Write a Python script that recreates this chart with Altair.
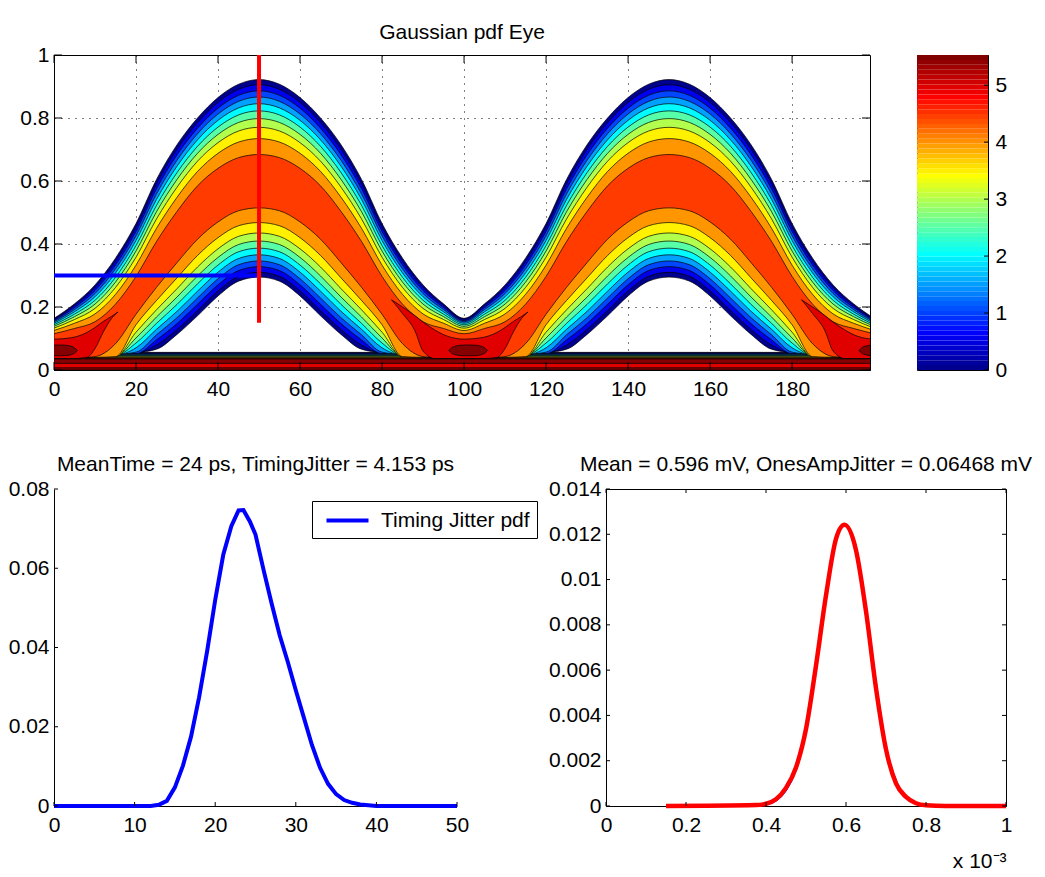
import pandas as pd
import altair as alt

FONT = "Liberation Sans"
FS = 21

# ------------------------------------------------------------------ eye contour (top)
EYE_TITLE = "Gaussian pdf Eye"
EYE_X_MAX = 199
EYE_XTICKS = [0, 20, 40, 60, 80, 100, 120, 140, 160, 180]
EYE_YTICKS = [0, 0.2, 0.4, 0.6, 0.8, 1]
# half bit period (outer upper edge, core centre, outer lower edge)
HALF_X = [0, 5, 10, 15, 20, 25, 30, 35, 40, 45, 50]
UPPER_EDGE = [0.164, 0.21, 0.27, 0.355, 0.465, 0.605, 0.715, 0.80, 0.865, 0.907, 0.922]
CENTRE = [0.097, 0.103, 0.11, 0.155, 0.235, 0.335, 0.425, 0.505, 0.557, 0.588, 0.596]
LOWER_EDGE = [-0.17, -0.16, -0.14, -0.11, 0.02, 0.066, 0.113, 0.172, 0.235, 0.282, 0.295]
BIT_PERIOD = 100
# contour levels and where each line sits between core centre and outer edge
CONTOUR_LEVELS = [0.0, 0.5, 1.0, 1.5, 2.0, 2.5, 3.0, 3.5, 4.0, 4.5]
LEVEL_FRACTION = [1.0, 0.95, 0.89, 0.83, 0.765, 0.695, 0.62, 0.535, 0.425, 0.27]
ZERO_TOP = [0.056, 0.054, 0.052, 0.050, 0.048, 0.046, 0.044, 0.042, 0.040, 0.038]
CROSSINGS = [0, 100, 200]
WING_LEVEL = 5.0
WING_DX = [-17.7, -15, -12, -10, -7, -4, 0, 4, 8, 10, 12, 14, 15.6]
WING_TOP = [0.223, 0.200, 0.173, 0.152, 0.126, 0.107, 0.098, 0.102, 0.119, 0.135, 0.154, 0.170, 0.184]
WING_BOTTOM = [0.223, 0.179, 0.125, 0.060, 0.036, 0.036, 0.036, 0.036, 0.040, 0.068, 0.120, 0.163, 0.184]
WING_ZERO = [0.0, 0.036]
PEAK_LEVEL = 5.5
BLOB_CENTRES = [1, 101, 201]
BLOB_DX = [-4.7, -4.0, -3.0, -1.5, 0.0, 1.5, 3.0, 4.0, 4.7]
BLOB_TOP = [0.062, 0.071, 0.076, 0.079, 0.0795, 0.079, 0.076, 0.071, 0.062]
BLOB_BOTTOM = [0.062, 0.053, 0.048, 0.0455, 0.045, 0.0455, 0.048, 0.053, 0.062]
PEAK_ZERO_BANDS = [(0.021, 0.035), (0.0, 0.007)]
H_CURSOR_X = [0, 50]
H_CURSOR_Y = [0.3, 0.3]
V_CURSOR_X = [50, 50]
V_CURSOR_Y = [0.15, 1.0]

COLOR_MAX = 5.53
CBAR_TICKS = [0, 1, 2, 3, 4, 5]
N_CBAR = 64

# ------------------------------------------------------------------ timing jitter (bottom left)
TJ_TITLE = "MeanTime = 24 ps, TimingJitter = 4.153 ps"
TJ_LABEL = "Timing Jitter pdf"
TJ_XTICKS = [0, 10, 20, 30, 40, 50]
TJ_YTICKS = [0, 0.02, 0.04, 0.06, 0.08]
TJ_X = [0, 12, 13, 14, 15, 16, 17, 18, 19, 20, 21, 22, 22.9, 23.5, 24.3, 25, 26, 27, 28, 29,
        30, 31, 32, 33, 34, 35, 36, 37, 38, 40, 50]
TJ_Y = [0, 0, 0.0003, 0.0013, 0.0047, 0.0102, 0.0175, 0.0274, 0.0391, 0.0520, 0.0634, 0.0706,
        0.0746, 0.0747, 0.0718, 0.0685, 0.0596, 0.0511, 0.0431, 0.0364, 0.0292, 0.0223, 0.0154,
        0.0097, 0.0056, 0.0030, 0.0015, 0.0008, 0.0004, 0.0, 0.0]

# ------------------------------------------------------------------ ones amplitude (bottom right)
AMP_TITLE = "Mean = 0.596 mV, OnesAmpJitter = 0.06468 mV"
AMP_XTICKS = [0, 0.2, 0.4, 0.6, 0.8, 1]
AMP_YTICKS = [0, 0.002, 0.004, 0.006, 0.008, 0.01, 0.012, 0.014]
AMP_EXPONENT = "x 10\u207b\u00b3"
AMP_X = [0.15, 0.375, 0.4, 0.425, 0.45, 0.475, 0.5, 0.525, 0.55, 0.575, 0.596, 0.625, 0.65,
         0.675, 0.7, 0.725, 0.75, 0.775, 0.8, 0.85, 1.0]
AMP_BLUE = [0, 0.00003, 0.0001, 0.00025, 0.0007, 0.0016, 0.0033, 0.0061, 0.0093, 0.0119, 0.01245,
            0.0114, 0.0087, 0.0054, 0.0026, 0.0011, 0.0004, 0.00014, 0.00004, 0, 0]
AMP_RED = [0, 0.00004, 0.0001, 0.0003, 0.0008, 0.0017, 0.0034, 0.0062, 0.0093, 0.0118, 0.01242,
           0.0113, 0.0086, 0.0052, 0.0025, 0.0010, 0.0004, 0.00012, 0.00003, 0, 0]

# ------------------------------------------------------------------ layout / style
EYE_W, EYE_H = 816, 315
CB_W = 71
BL_W, BR_W, BOT_H = 403, 400, 317
BLUE, RED = "#0000ff", "#ff0000"
NUM_FMT = "~r"
JET_STOPS = [0.0, 0.111, 0.365, 0.619, 0.873, 1.0]
JET_COLOURS = ["#00008f", "#0000ff", "#00ffff", "#ffff00", "#ff0000", "#800000"]
JET = alt.Scale(domain=[s * COLOR_MAX for s in JET_STOPS], range=JET_COLOURS,
                interpolate="rgb", clamp=True)


def unfold(values, is_x=False):
    """Mirror the half period and repeat it over two bits."""
    if is_x:
        one = list(values) + [BIT_PERIOD - v for v in values[-2::-1]]
        return one + [BIT_PERIOD + v for v in one[1:]]
    one = list(values) + list(values[-2::-1])
    return one + one[1:]


FX, FU, FC, FL = unfold(HALF_X, True), unfold(UPPER_EDGE), unfold(CENTRE), unfold(LOWER_EDGE)
X_ENDS = (CROSSINGS[0], CROSSINGS[-1])

rows = []
for lv, frac, floor in zip(CONTOUR_LEVELS, LEVEL_FRACTION, ZERO_TOP):
    for x, u, c, l in zip(FX, FU, FC, FL):
        rows.append(dict(level=lv, part="eye", x=x, lo=max(c - frac * (c - l), floor),
                         hi=c + frac * (u - c)))
    for x in X_ENDS:
        rows.append(dict(level=lv, part="zero", x=x, lo=0.0, hi=floor))
for x0 in CROSSINGS:
    for dx, t, b in zip(WING_DX, WING_TOP, WING_BOTTOM):
        rows.append(dict(level=WING_LEVEL, part=f"wing{x0}", x=x0 + dx, lo=b, hi=t))
for x in X_ENDS:
    rows.append(dict(level=WING_LEVEL, part="zero", x=x, lo=WING_ZERO[0], hi=WING_ZERO[1]))
for x0 in BLOB_CENTRES:
    for dx, t, b in zip(BLOB_DX, BLOB_TOP, BLOB_BOTTOM):
        rows.append(dict(level=PEAK_LEVEL, part=f"blob{x0}", x=x0 + dx, lo=b, hi=t))
for i, (b, t) in enumerate(PEAK_ZERO_BANDS):
    for x in X_ENDS:
        rows.append(dict(level=PEAK_LEVEL, part=f"zero{i}", x=x, lo=b, hi=t))
eye = pd.DataFrame(rows)

eye_xs = alt.Scale(domain=[0, EYE_X_MAX], nice=False, zero=False)
eye_ys = alt.Scale(domain=[0, 1], nice=False, zero=False)
eye_xa = alt.Axis(title=None, values=EYE_XTICKS, format=NUM_FMT, grid=True, labelPadding=8)
eye_ya = alt.Axis(title=None, values=EYE_YTICKS, format=NUM_FMT, grid=True, labelPadding=5)


def tick_rules(vals, channel, scale, axis, a, b):
    df = pd.DataFrame({"t": vals})
    base = alt.Chart(df).mark_rule(color="black", strokeWidth=1)
    if channel == "x":
        return base.encode(x=alt.X("t:Q", scale=scale, axis=axis), y=alt.value(a), y2=alt.value(b))
    return base.encode(y=alt.Y("t:Q", scale=scale, axis=axis), x=alt.value(a), x2=alt.value(b))


eye_layers = []
for lv in CONTOUR_LEVELS + [WING_LEVEL, PEAK_LEVEL]:
    eye_layers.append(
        alt.Chart(eye[eye.level == lv]).mark_area(
            interpolate="monotone", stroke="black", strokeWidth=0.7, clip=True
        ).encode(
            x=alt.X("x:Q", scale=eye_xs, axis=eye_xa),
            y=alt.Y("lo:Q", scale=eye_ys, axis=eye_ya),
            y2="hi:Q",
            color=alt.Color("level:Q", scale=JET, legend=None),
            detail="part:N",
        )
    )
for cx, cy, col in ((H_CURSOR_X, H_CURSOR_Y, BLUE), (V_CURSOR_X, V_CURSOR_Y, RED)):
    eye_layers.append(
        alt.Chart(pd.DataFrame({"x": cx, "y": cy})).mark_line(color=col, strokeWidth=4).encode(
            x=alt.X("x:Q", scale=eye_xs, axis=eye_xa), y=alt.Y("y:Q", scale=eye_ys, axis=eye_ya))
    )
eye_layers += [
    tick_rules(EYE_XTICKS, "x", eye_xs, eye_xa, EYE_H, EYE_H - 8),
    tick_rules(EYE_XTICKS, "x", eye_xs, eye_xa, 0, 8),
    tick_rules(EYE_YTICKS, "y", eye_ys, eye_ya, 0, 8),
    tick_rules(EYE_YTICKS, "y", eye_ys, eye_ya, EYE_W - 8, EYE_W),
]
eye_chart = alt.layer(*eye_layers).properties(
    width=EYE_W, height=EYE_H,
    title=alt.TitleParams(EYE_TITLE, offset=1),
    view=alt.ViewBackground(stroke="black", strokeWidth=1),
)

# colour bar
cb = pd.DataFrame({
    "lo": [i * COLOR_MAX / N_CBAR for i in range(N_CBAR)],
    "hi": [(i + 1) * COLOR_MAX / N_CBAR for i in range(N_CBAR)],
    "c": [i / (N_CBAR - 1) * COLOR_MAX for i in range(N_CBAR)],
})
cb_ys = alt.Scale(domain=[0, COLOR_MAX], nice=False, zero=False)
cb_ya = alt.Axis(title=None, values=CBAR_TICKS, orient="right", labelPadding=7, format=NUM_FMT,
                 grid=False)
cb_chart = alt.layer(
    alt.Chart(cb).mark_rect().encode(
        x=alt.value(0), x2=alt.value(CB_W),
        y=alt.Y("lo:Q", scale=cb_ys, axis=cb_ya), y2="hi:Q",
        color=alt.Color("c:Q", scale=JET, legend=None),
    ),
    tick_rules(CBAR_TICKS, "y", cb_ys, cb_ya, CB_W - 4, CB_W),
).properties(width=CB_W, height=EYE_H, view=alt.ViewBackground(stroke="black", strokeWidth=1))

# timing jitter
tj = pd.DataFrame({"x": TJ_X, "y": TJ_Y, "series": TJ_LABEL})
tj_xs = alt.Scale(domain=[0, 50], nice=False, zero=False)
tj_ys = alt.Scale(domain=[0, 0.08], nice=False, zero=False)
tj_xa = alt.Axis(title=None, values=TJ_XTICKS, format=NUM_FMT, labelPadding=8, grid=False)
tj_ya = alt.Axis(title=None, values=TJ_YTICKS, format=NUM_FMT, labelPadding=5, grid=False)
tj_chart = alt.layer(
    alt.Chart(tj).mark_line(strokeWidth=4).encode(
        x=alt.X("x:Q", scale=tj_xs, axis=tj_xa),
        y=alt.Y("y:Q", scale=tj_ys, axis=tj_ya),
        color=alt.Color("series:N", scale=alt.Scale(domain=[TJ_LABEL], range=[BLUE]),
                        legend=alt.Legend(orient="none", legendX=258, legendY=12, title=None,
                                          symbolType="M-2,0H2", symbolStrokeWidth=4,
                                          symbolSize=441, labelFont=FONT, labelFontSize=FS,
                                          labelColor="black", strokeColor="black",
                                          fillColor="white", padding=7, labelOffset=21,
                                          symbolOffset=16)),
    ),
    tick_rules(TJ_XTICKS, "x", tj_xs, tj_xa, BOT_H, BOT_H - 4),
    tick_rules(TJ_YTICKS, "y", tj_ys, tj_ya, 0, 4),
).properties(width=BL_W, height=BOT_H, title=alt.TitleParams(TJ_TITLE, offset=3))

# ones amplitude
amp = pd.DataFrame({"x": AMP_X, "blue": AMP_BLUE, "red": AMP_RED})
am_xs = alt.Scale(domain=[0, 1], nice=False, zero=False)
am_ys = alt.Scale(domain=[0, 0.014], nice=False, zero=False)
am_xa = alt.Axis(title=AMP_EXPONENT, values=AMP_XTICKS, format=NUM_FMT, labelPadding=8,
                 grid=False, titleX=BR_W, titleY=61, titleAlign="right",
                 titleBaseline="alphabetic", titleAnchor="end")
am_ya = alt.Axis(title=None, values=AMP_YTICKS, format=NUM_FMT, labelPadding=5, grid=False)
am_chart = alt.layer(
    alt.Chart(amp).mark_line(color=BLUE, strokeWidth=2, interpolate="monotone").encode(
        x=alt.X("x:Q", scale=am_xs, axis=am_xa), y=alt.Y("blue:Q", scale=am_ys, axis=am_ya)),
    alt.Chart(amp).mark_line(color=RED, strokeWidth=4.5, interpolate="monotone").encode(
        x=alt.X("x:Q", scale=am_xs, axis=am_xa), y=alt.Y("red:Q", scale=am_ys, axis=am_ya)),
    tick_rules(AMP_XTICKS, "x", am_xs, am_xa, BOT_H, BOT_H - 4),
    tick_rules(AMP_XTICKS, "x", am_xs, am_xa, 0, 4),
    tick_rules(AMP_YTICKS, "y", am_ys, am_ya, 0, 4),
    tick_rules(AMP_YTICKS, "y", am_ys, am_ya, BR_W - 4, BR_W),
).properties(width=BR_W, height=BOT_H, title=alt.TitleParams(AMP_TITLE, offset=3),
             view=alt.ViewBackground(stroke="black", strokeWidth=1))

top = alt.hconcat(eye_chart, cb_chart, spacing=47, bounds="flush").resolve_scale(color="independent")
bottom = alt.hconcat(tj_chart, am_chart, spacing=149, bounds="flush").resolve_scale(color="independent")
chart = alt.vconcat(top, bottom, spacing=53).resolve_scale(color="independent").properties(
    padding={"left": 0, "top": 13, "right": 2, "bottom": 2}
).configure_view(stroke=None).configure_axis(
    labelFont=FONT, labelFontSize=FS, labelColor="black", ticks=False, tickSize=0,
    domainColor="black", domainWidth=1, gridColor="black", gridDash=[1, 6], gridOpacity=1,
    gridWidth=1, labelFlush=False, labelOverlap=False, titleFont=FONT, titleFontSize=FS,
    titleFontWeight="normal", titleColor="black",
).configure_title(
    font=FONT, fontSize=FS, fontWeight="normal", color="black", anchor="middle",
    baseline="alphabetic",
)

chart.save("out.html", embed_options={"renderer": "svg", "actions": False})
